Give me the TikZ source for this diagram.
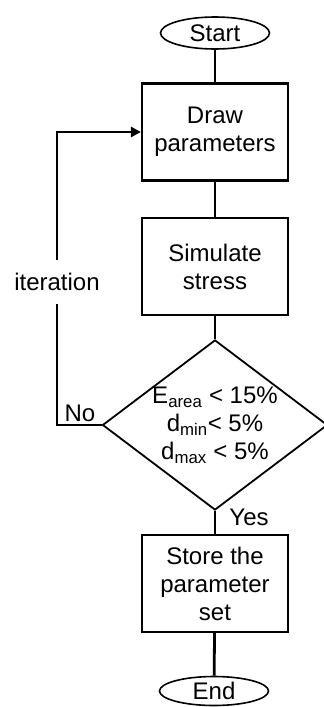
\documentclass[tikz,border=0pt]{standalone}
\usepackage{fontspec}
\setmainfont{Liberation Sans}
\usepackage{tikz}
\usetikzlibrary{shapes.geometric,arrows.meta}

\tikzset{
    terminal/.style={draw, ellipse, line width=1.6pt, minimum width=109pt, minimum height=32pt, inner sep=0pt},
    process/.style={draw, rectangle, line width=2.2pt, minimum width=146pt, minimum height=97pt, align=center, inner sep=0pt},
    decision/.style={draw, diamond, line width=1.8pt, minimum width=225pt, minimum height=146pt, align=center, inner sep=-8pt},
    flowline/.style={line width=2.8pt},
    tag/.style={inner sep=0pt}
}

\begin{document}
\begin{tikzpicture}[x=1pt, y=-1pt, font=\fontsize{24}{28}\selectfont]
                \useasboundingbox (0,0) rectangle (324,707);
                \node[terminal] (start) at (215, 33) {Start};
                \node[process] (params) at (215, 132) {Draw\\parameters};
                \node[process] (simulate) at (215, 266.5) {Simulate\\stress};
                \node[decision] (check) at (215, 425) {E\textsubscript{area} < 15\%\\d\textsubscript{min}< 5\%\\d\textsubscript{max} < 5\%};
                \node[process] (store) at (215, 583.5) {Store the\\parameter\\set};
                \node[terminal, minimum height=29pt] (stop) at (214, 691) {End};
                \node[tag, minimum height=44pt] (iter) at (57, 282) {iteration};
                \node[tag] (no) at (80, 413) {No};
                \node[tag] (yes) at (249, 517) {Yes};

                \draw[flowline] (start) -- (params);
                \draw[flowline] (params) -- (simulate);
                \draw[flowline] (simulate) -- (check);
                \draw[flowline] (check) -- (store);
                \draw[flowline] (store) -- (stop);
                \draw[flowline] (check.west) -| (iter.south);
                \draw[flowline, -{Triangle[length=10pt, width=10pt]}] (iter.north) |- (params.west);
            \end{tikzpicture}
\end{document}
